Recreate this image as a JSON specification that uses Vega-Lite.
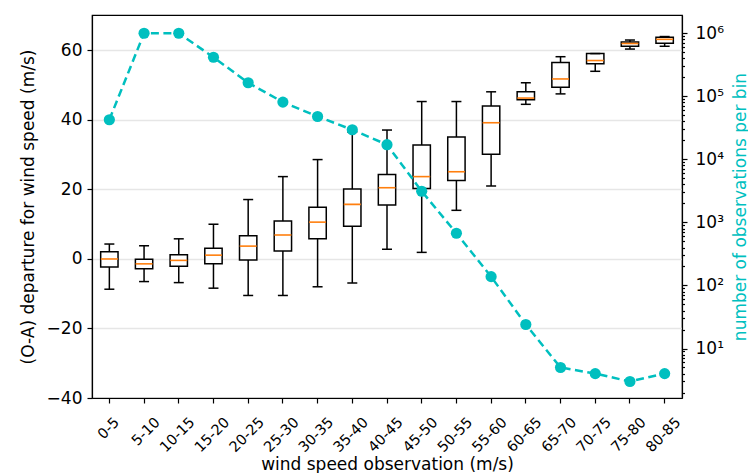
{
  "$schema": "https://vega.github.io/schema/vega-lite/v6.json",
  "width": 590,
  "height": 383,
  "autosize": {"type": "none"},
  "padding": {"left": 92, "top": 15, "right": 66, "bottom": 75},
  "background": "white",
  "config": {
    "view": {"stroke": "black", "strokeWidth": 1.2},
    "font": "DejaVu Sans",
    "axis": {
      "labelFont": "DejaVu Sans",
      "titleFont": "DejaVu Sans",
      "labelFontSize": 17,
      "titleFontSize": 17,
      "titleFontWeight": "normal",
      "labelColor": "black",
      "titleColor": "black",
      "domainColor": "black",
      "domainWidth": 1.2,
      "tickColor": "black",
      "tickWidth": 1.2,
      "tickSize": 5,
      "labelFlush": false,
      "labelOverlap": false
    }
  },
  "data": {
    "values": [
      {"bin": "0-5", "lo": -8.7, "q1": -2.3, "med": 0.0, "q3": 2.1, "hi": 4.3, "n": 42500},
      {"bin": "5-10", "lo": -6.5, "q1": -2.8, "med": -1.4, "q3": -0.1, "hi": 3.8, "n": 1000000},
      {"bin": "10-15", "lo": -6.8, "q1": -2.1, "med": -0.4, "q3": 1.2, "hi": 5.8, "n": 1000000},
      {"bin": "15-20", "lo": -8.4, "q1": -1.4, "med": 1.1, "q3": 3.1, "hi": 10.0, "n": 417000},
      {"bin": "20-25", "lo": -10.5, "q1": -0.3, "med": 3.7, "q3": 6.7, "hi": 17.1, "n": 164000},
      {"bin": "25-30", "lo": -10.5, "q1": 2.3, "med": 6.9, "q3": 10.9, "hi": 23.7, "n": 81000},
      {"bin": "30-35", "lo": -8.0, "q1": 5.8, "med": 10.6, "q3": 14.9, "hi": 28.6, "n": 47900},
      {"bin": "35-40", "lo": -6.9, "q1": 9.4, "med": 15.7, "q3": 20.1, "hi": 36.5, "n": 29500},
      {"bin": "40-45", "lo": 2.8, "q1": 15.5, "med": 20.5, "q3": 24.3, "hi": 37.1, "n": 17100},
      {"bin": "45-50", "lo": 1.9, "q1": 20.3, "med": 23.7, "q3": 32.8, "hi": 45.3, "n": 3120},
      {"bin": "50-55", "lo": 14.0, "q1": 22.6, "med": 25.1, "q3": 35.1, "hi": 45.3, "n": 673},
      {"bin": "55-60", "lo": 21.0, "q1": 30.1, "med": 39.2, "q3": 44.0, "hi": 48.1, "n": 138},
      {"bin": "60-65", "lo": 44.5, "q1": 45.8, "med": 46.3, "q3": 48.1, "hi": 50.7, "n": 24},
      {"bin": "65-70", "lo": 47.5, "q1": 49.4, "med": 51.8, "q3": 56.5, "hi": 58.2, "n": 5},
      {"bin": "70-75", "lo": 54.0, "q1": 56.2, "med": 57.1, "q3": 59.1, "hi": 59.1, "n": 4},
      {"bin": "75-80", "lo": 60.4, "q1": 61.2, "med": 62.0, "q3": 62.4, "hi": 63.0, "n": 3},
      {"bin": "80-85", "lo": 61.2, "q1": 62.1, "med": 63.2, "q3": 63.8, "hi": 64.0, "n": 4}
    ]
  },
  "encoding": {
    "x": {
      "field": "bin",
      "type": "ordinal",
      "sort": null,
      "scale": {"type": "band", "paddingInner": 0, "paddingOuter": 0},
      "axis": {
        "title": "wind speed observation (m/s)",
        "labelAngle": -45,
        "labelAlign": "right",
        "labelBaseline": "top",
        "labelFontSize": 14.5,
        "labelPadding": 12,
        "labelOffset": {"condition": {"test": "length(datum.label) <= 3", "value": 3}, "value": 9},
        "titleX": 295,
        "titleY": 71,
        "titleAlign": "center",
        "titleBaseline": "alphabetic",
        "grid": false
      }
    }
  },
  "layer": [
    {
      "encoding": {
        "y": {
          "type": "quantitative",
          "scale": {"domain": [-40, 70.2], "nice": false, "zero": false},
          "axis": {
            "orient": "left",
            "title": "(O-A) departure for wind speed (m/s)",
            "values": [-40, -20, 0, 20, 40, 60],
            "grid": true,
            "gridColor": "#e6e6e6",
            "gridWidth": 1.4,
            "labelPadding": 5,
            "titleX": -64,
            "titleY": 191.5,
            "titleAngle": -90,
            "titleAlign": "center",
            "titleBaseline": "middle"
          }
        }
      },
      "layer": [
        {
          "mark": {"type": "rule", "color": "black", "strokeWidth": 1.5},
          "encoding": {"y": {"field": "lo"}, "y2": {"field": "hi"}}
        },
        {
          "mark": {"type": "bar", "fill": "white", "stroke": "black", "strokeWidth": 1.5, "width": {"band": 0.5}},
          "encoding": {"y": {"field": "q1"}, "y2": {"field": "q3"}}
        },
        {
          "mark": {"type": "tick", "color": "#ff7f0e", "size": 17, "thickness": 1.6, "opacity": 1},
          "encoding": {"y": {"field": "med"}}
        },
        {
          "mark": {"type": "tick", "color": "black", "size": 10, "thickness": 1.5, "opacity": 1},
          "encoding": {"y": {"field": "lo"}}
        },
        {
          "mark": {"type": "tick", "color": "black", "size": 10, "thickness": 1.5, "opacity": 1},
          "encoding": {"y": {"field": "hi"}}
        }
      ]
    },
    {
      "encoding": {
        "y": {
          "field": "n",
          "type": "quantitative",
          "scale": {"type": "log", "domain": [1.64, 1950000], "nice": false},
          "axis": {
            "orient": "right",
            "title": "number of observations per bin",
            "titleColor": "#00BFBF",
            "titleX": 58,
            "titleY": 191.5,
            "titleAngle": -90,
            "titleAlign": "center",
            "titleBaseline": "middle",
            "grid": false,
            "values": [2,3,4,5,6,7,8,9,10,20,30,40,50,60,70,80,90,100,200,300,400,500,600,700,800,900,1000,2000,3000,4000,5000,6000,7000,8000,9000,10000,20000,30000,40000,50000,60000,70000,80000,90000,100000,200000,300000,400000,500000,600000,700000,800000,900000,1000000],
            "tickSize": {"condition": {"test": "abs(log(datum.value)/LN10 - round(log(datum.value)/LN10)) < 1e-6", "value": 5}, "value": 2.5},
            "labelPadding": 8,
            "labelExpr": "abs(log(datum.value)/LN10 - round(log(datum.value)/LN10)) < 1e-6 ? '10' + substring('⁰¹²³⁴⁵⁶', round(log(datum.value)/LN10), round(log(datum.value)/LN10) + 1) : ''"
          }
        }
      },
      "layer": [
        {
          "mark": {"type": "line", "color": "#00BFBF", "strokeWidth": 2.5, "strokeDash": [8, 4.5]},
          "encoding": {}
        },
        {
          "mark": {"type": "point", "filled": true, "color": "#00BFBF", "size": 125, "opacity": 1},
          "encoding": {}
        }
      ]
    }
  ],
  "resolve": {"scale": {"y": "independent"}}
}
